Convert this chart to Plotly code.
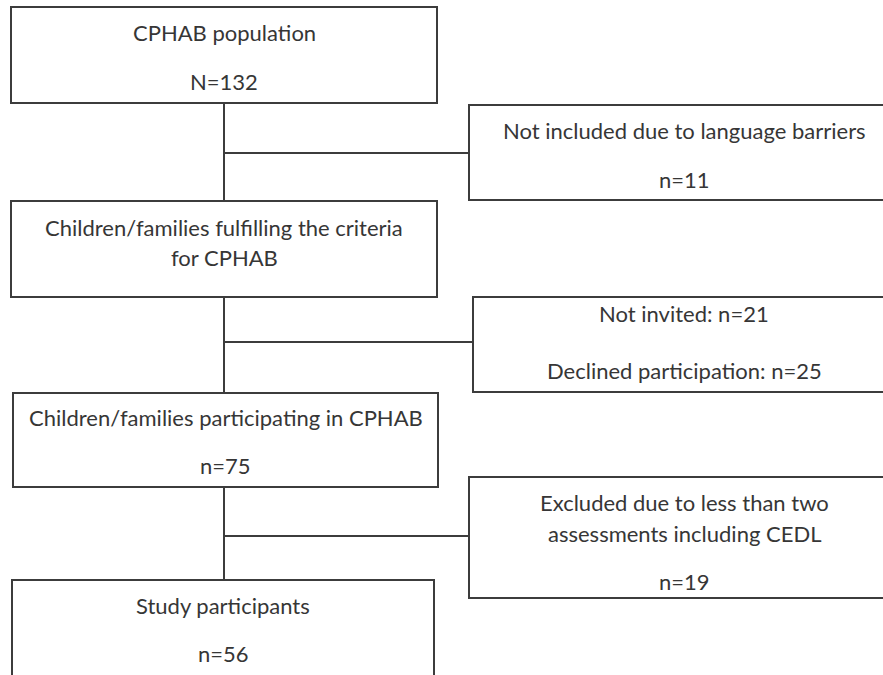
import plotly.graph_objects as go

# ---- data (flowchart contents) ----
main_titles = ["CPHAB population",
               "Children/families fulfilling the criteria",
               "Children/families participating in CPHAB",
               "Study participants"]
main_subtitles = ["N=132", "for CPHAB", "n=75", "n=56"]
excl_titles = ["Not included due to language barriers",
               "Not invited: n=21",
               "Excluded due to less than two"]
excl_sub2 = ["", "", "assessments including CEDL"]
excl_counts = ["n=11", "Declined participation: n=25", "n=19"]

# ---- layout geometry (pixel-space axes) ----
W, H = 883, 675
main_boxes = [(11, 7, 437, 103), (11, 201, 437, 297), (13, 393, 438, 487), (12, 580, 434, 677)]
main_text_y = [(32, 81), (227, 257), (417, 465), (605, 653)]
excl_boxes = [(469, 105, 900, 200), (473, 297, 900, 392), (469, 477, 900, 598)]
excl_text_y = [(130, None, 179), (313, None, 370), (502, 533, 581)]
branch_y = [153, 342, 536]
trunk_x = 224

LINE = "#3c3c3c"
TXT = "#363636"
FONT = "Lato"
FS = 22

fig = go.Figure()
fig.add_trace(go.Scatter(x=[0, W], y=[0, H], mode="markers",
                         marker=dict(opacity=0), hoverinfo="skip", showlegend=False))

shapes = []
for (x0, y0, x1, y1) in main_boxes:
    shapes.append(dict(type="rect", x0=x0, y0=y0, x1=x1, y1=y1,
                       line=dict(color=LINE, width=2), fillcolor="white", layer="above"))
# exclusion boxes run off the right edge: draw top, left and bottom sides only
for (x0, y0, x1, y1) in excl_boxes:
    shapes.append(dict(type="path",
                       path=f"M {x1} {y0} L {x0} {y0} L {x0} {y1} L {x1} {y1}",
                       line=dict(color=LINE, width=2), layer="above"))
# connectors
for i in range(3):
    shapes.append(dict(type="line", x0=trunk_x, x1=trunk_x,
                       y0=main_boxes[i][3], y1=main_boxes[i + 1][1],
                       line=dict(color=LINE, width=2)))
    shapes.append(dict(type="line", x0=trunk_x, x1=excl_boxes[i][0],
                       y0=branch_y[i], y1=branch_y[i],
                       line=dict(color=LINE, width=2)))

annotations = []
for i in range(4):
    cx = (main_boxes[i][0] + main_boxes[i][2]) / 2
    annotations.append(dict(x=cx, y=main_text_y[i][0], text=main_titles[i]))
    annotations.append(dict(x=cx, y=main_text_y[i][1], text=main_subtitles[i]))
for i in range(3):
    cx = 684
    annotations.append(dict(x=cx, y=excl_text_y[i][0], text=excl_titles[i]))
    if excl_sub2[i]:
        annotations.append(dict(x=cx, y=excl_text_y[i][1], text=excl_sub2[i]))
    annotations.append(dict(x=cx, y=excl_text_y[i][2], text=excl_counts[i]))
for a in annotations:
    a.update(xref="x", yref="y", showarrow=False, xanchor="center", yanchor="middle",
             font=dict(family=FONT, size=FS, color=TXT))

fig.update_layout(
    width=W, height=H, margin=dict(l=0, r=0, t=0, b=0),
    paper_bgcolor="white", plot_bgcolor="white",
    xaxis=dict(range=[0, W], visible=False, fixedrange=True),
    yaxis=dict(range=[H, 0], visible=False, fixedrange=True),
    shapes=shapes, annotations=annotations, showlegend=False,
)
fig.write_html("out.html", config={"displayModeBar": False},
               post_script="document.body.style.margin='0';document.body.style.overflow='hidden';")
